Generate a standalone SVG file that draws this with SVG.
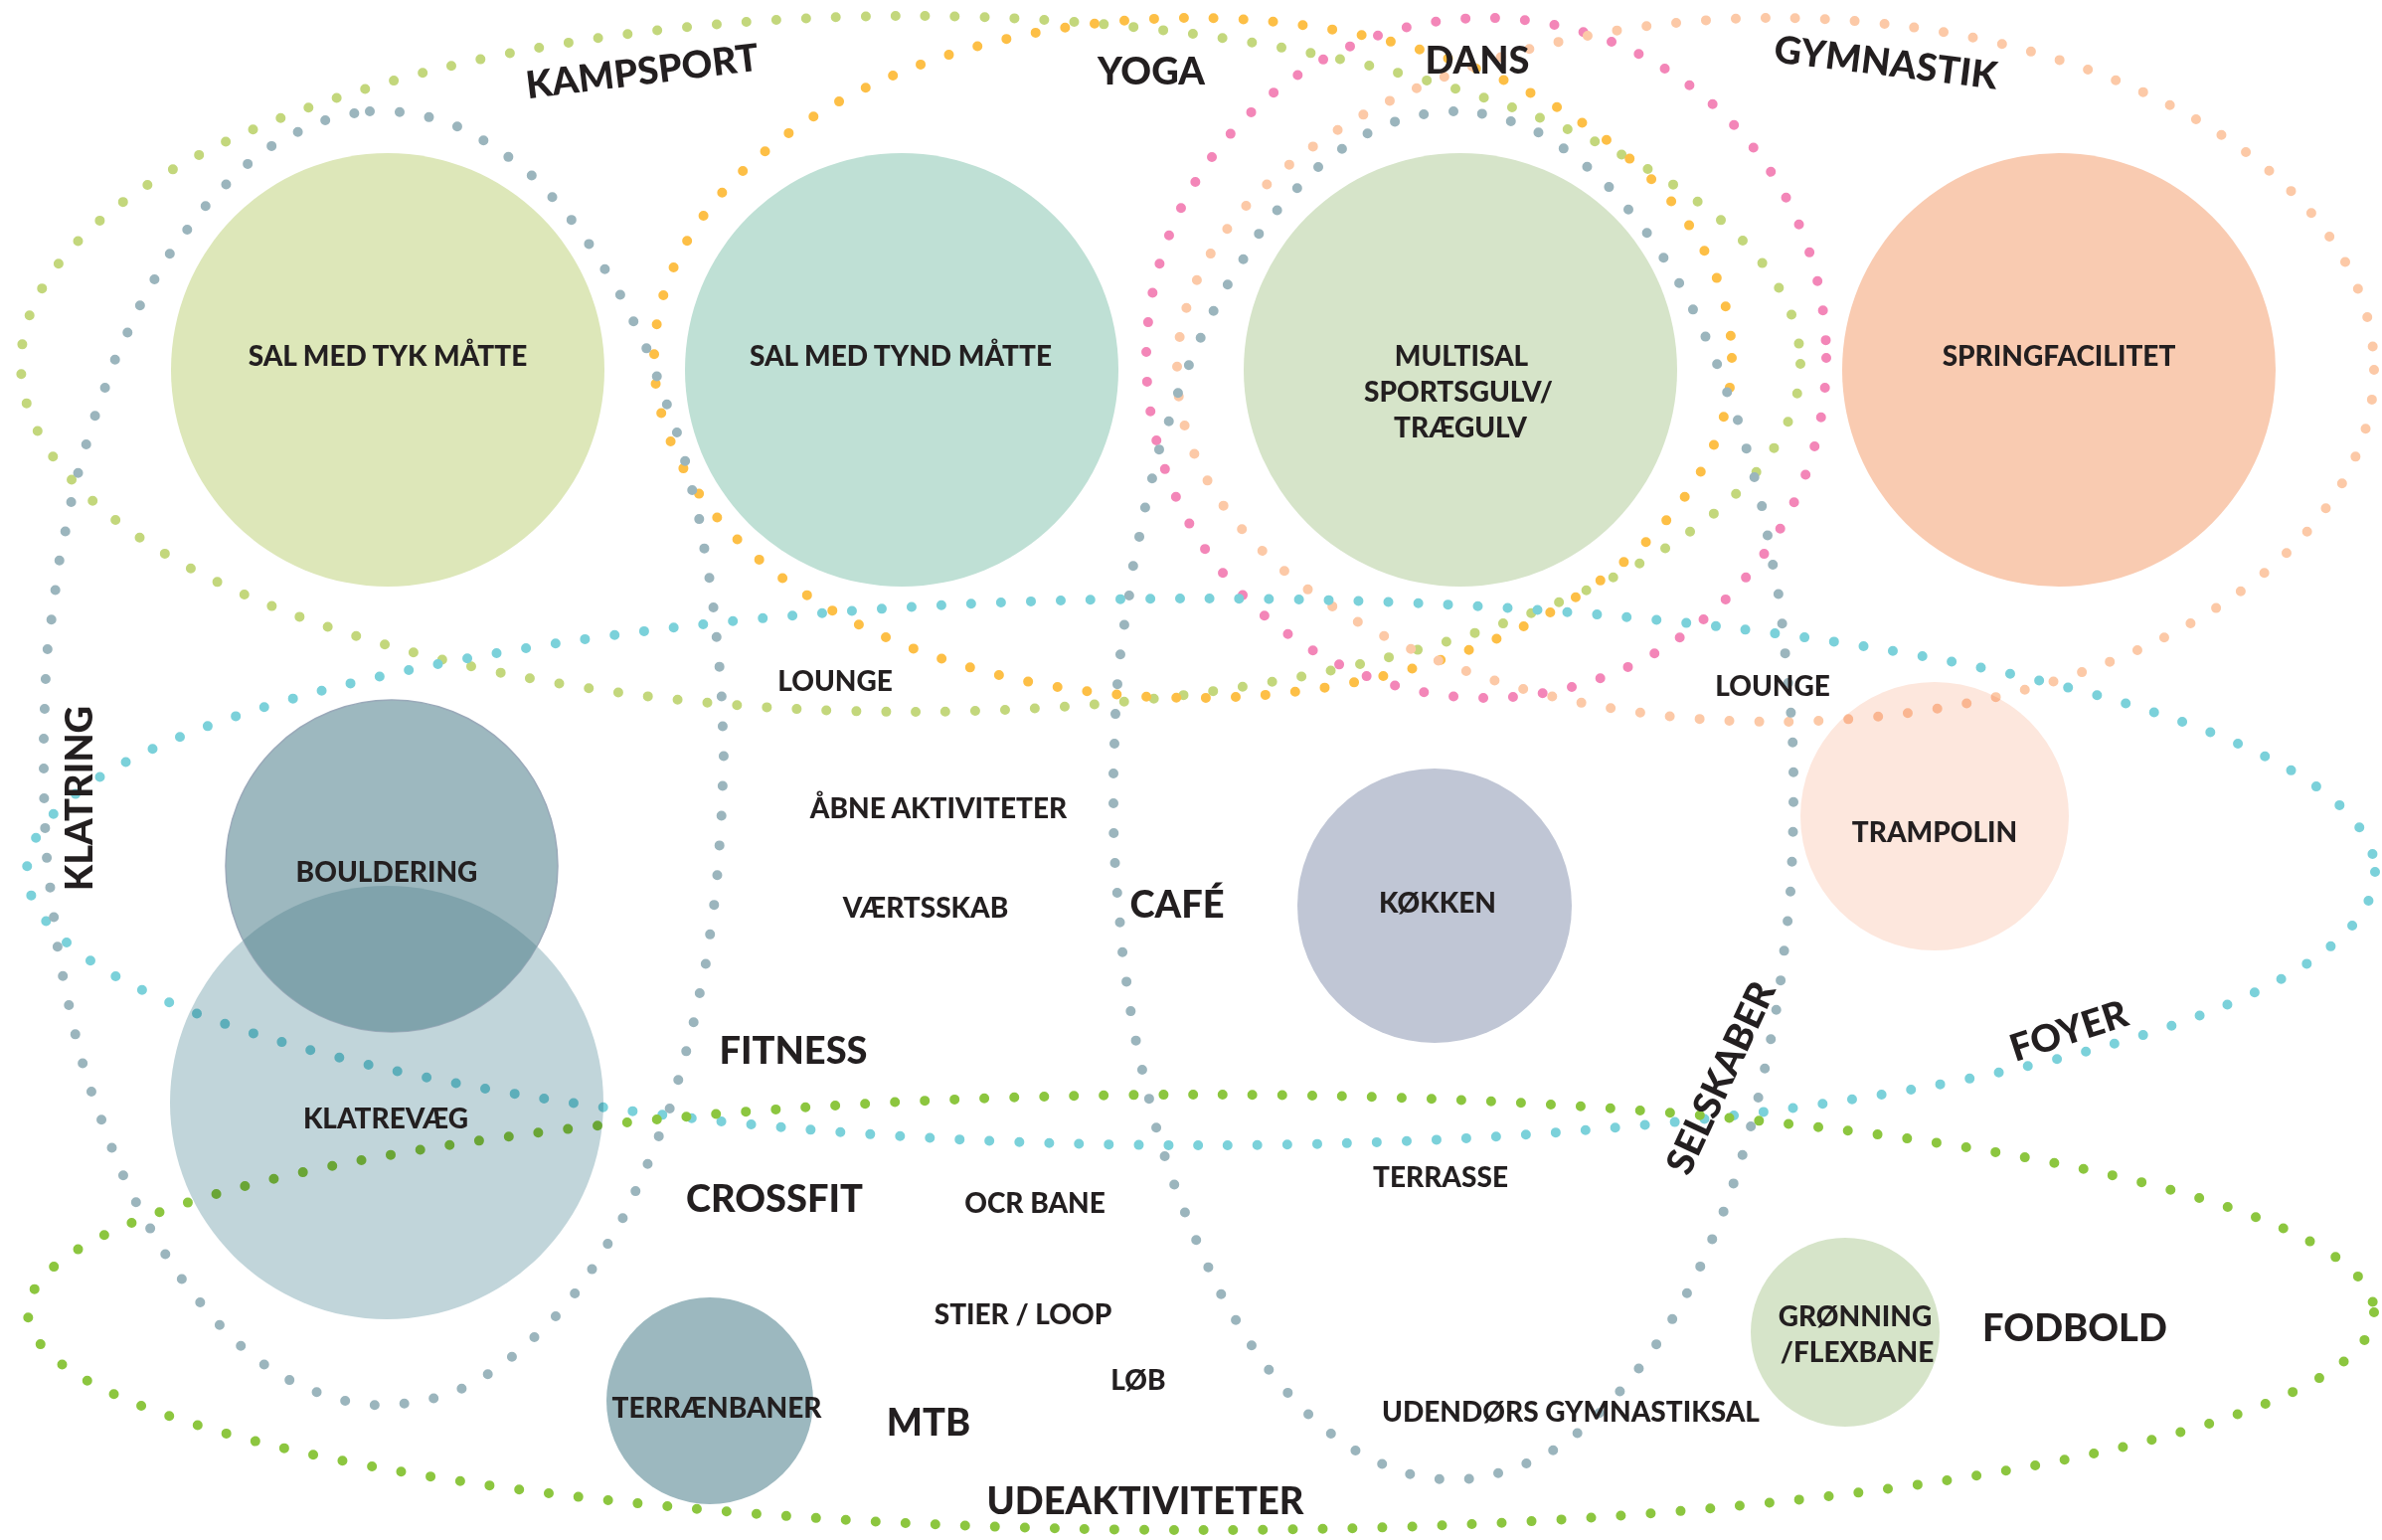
<svg xmlns="http://www.w3.org/2000/svg" width="2396" height="1549" viewBox="0 0 2396 1549">
<style>
.dot{fill:none;stroke-width:10;stroke-linecap:round;stroke-dasharray:0 30;}
.lbl{font-family:Lato,"Liberation Sans",sans-serif;font-weight:900;fill:#231f20;text-anchor:middle;}
.s{font-size:28px;}
.b{font-size:38px;}
</style>
<defs>
<clipPath id="clipKlatre"><circle cx="389" cy="1109" r="218"/></clipPath>
</defs>
<rect width="2396" height="1549" fill="#ffffff"/>

<g id="nodes">
<g id="sal-tyk"><circle cx="390" cy="372" r="218" fill="#dde7b9"/><text class="lbl s" x="390" y="368">SAL MED TYK MÅTTE</text></g>
<g id="sal-tynd"><circle cx="907" cy="372" r="218" fill="#bfe0d5"/><text class="lbl s" x="906" y="368">SAL MED TYND MÅTTE</text></g>
<g id="multisal"><circle cx="1469" cy="372" r="218" fill="#d6e4c9"/><text class="lbl s" x="1470" y="368">MULTISAL</text><text class="lbl s" x="1467" y="404">SPORTSGULV/</text><text class="lbl s" x="1469" y="440">TRÆGULV</text></g>
<g id="springfacilitet"><circle cx="2071" cy="372" r="218" fill="#f9cbb1"/><text class="lbl s" x="2071" y="368">SPRINGFACILITET</text></g>
<g id="klatrevaeg"><circle cx="389" cy="1109" r="218" fill="#c1d5da"/></g>
<g id="bouldering"><circle cx="394" cy="871" r="167" fill="#9db8bf" stroke="#9aa9b9" stroke-width="1.5"/><circle cx="394" cy="871" r="167" fill="#80a3ac" clip-path="url(#clipKlatre)"/><text class="lbl s" x="389" y="887">BOULDERING</text></g>
<text class="lbl s" x="388" y="1135">KLATREVÆG</text>
<g id="terraenbaner"><circle cx="714" cy="1409" r="104" fill="#9cb8bf"/><text class="lbl s" x="721" y="1426">TERRÆNBANER</text></g>
<g id="koekken"><circle cx="1443" cy="911" r="138" fill="#c0c6d5"/><text class="lbl s" x="1446" y="918">KØKKEN</text></g>
<g id="trampolin"><circle cx="1946" cy="821" r="135" fill="#fde7dd"/><text class="lbl s" x="1946" y="847">TRAMPOLIN</text></g>
<g id="groenning"><circle cx="1856" cy="1340" r="95" fill="#d6e4c9"/><text class="lbl s" x="1866" y="1334">GRØNNING</text><text class="lbl s" x="1868" y="1370">/FLEXBANE</text></g>
</g>

<g id="connectors" style="mix-blend-mode:multiply">
<ellipse id="kampsport-loop" class="dot" stroke="#c3d77c" cx="916" cy="366" rx="895" ry="350"/>
<ellipse id="yoga-loop" class="dot" stroke="#fdbf46" cx="1200" cy="360" rx="542" ry="342"/>
<circle id="dans-loop" class="dot" stroke="#f386b8" cx="1495" cy="360" r="342"/>
<ellipse id="gymnastik-loop" class="dot" stroke="#fcc9a7" cx="1786" cy="372" rx="602" ry="354"/>
<ellipse id="foyer-loop" class="dot" stroke="#7bd1da" cx="1208" cy="877" rx="1181" ry="275"/>
<ellipse id="ude-loop" class="dot" stroke="#8cc63f" cx="1208" cy="1320" rx="1180" ry="219"/>
<path id="klatring-loop" class="dot" stroke="#9bb5bd" d="M372,112 L408,113 437,119 465,129 491,144 516,161 539,180 559,202 578,225 595,249 611,275 626,300 639,327 652,354 662,382 672,410 682,438 690,467 697,496 704,525 709,555 714,584 718,614 721,643 724,674 726,703 727,733 728,763 727,786 726,816 724,846 722,875 719,905 715,934 711,964 705,993 699,1023 692,1051 684,1080 676,1109 665,1137 654,1165 642,1192 630,1219 615,1245 600,1270 583,1295 564,1319 543,1340 521,1360 498,1378 471,1394 444,1405 414,1411 386,1414 362,1412 333,1406 305,1395 279,1382 254,1364 232,1345 212,1323 193,1300 175,1276 160,1251 145,1225 131,1198 119,1171 108,1143 98,1115 88,1087 80,1058 73,1029 67,1000 61,971 56,941 53,911 49,882 46,852 45,822 44,792 44,763 44,739 45,710 46,680 48,650 52,621 56,591 60,562 66,533 72,503 79,474 87,446 96,417 106,389 116,361 129,333 141,307 156,280 171,255 189,230 207,207 228,185 249,165 273,147 299,133 327,121 356,114 Z"/>
<path id="cafe-loop" class="dot" stroke="#9bb5bd" d="M1462,112 L1432,115 1404,122 1376,134 1351,149 1326,168 1305,189 1285,211 1267,234 1251,260 1235,286 1221,312 1208,339 1196,367 1185,395 1176,423 1166,452 1159,481 1152,510 1146,540 1140,568 1136,598 1131,628 1127,658 1124,688 1122,718 1121,748 1120,777 1120,800 1120,830 1121,860 1123,890 1126,920 1128,950 1132,979 1136,1009 1141,1039 1147,1068 1154,1097 1161,1127 1169,1155 1178,1183 1189,1212 1200,1240 1212,1267 1224,1294 1239,1321 1254,1346 1271,1371 1290,1395 1310,1417 1332,1437 1356,1455 1382,1469 1410,1481 1439,1487 1463,1489 1492,1486 1520,1478 1548,1467 1574,1452 1597,1433 1619,1411 1639,1389 1657,1365 1674,1341 1689,1315 1704,1288 1716,1261 1728,1233 1739,1205 1748,1177 1757,1148 1765,1119 1772,1090 1778,1061 1784,1032 1789,1002 1793,972 1796,943 1800,912 1802,882 1803,852 1804,823 1804,800 1804,770 1803,740 1801,711 1798,680 1795,651 1792,621 1788,591 1782,562 1777,533 1771,503 1763,474 1755,445 1746,416 1735,389 1725,360 1713,333 1700,305 1686,279 1670,254 1653,229 1634,206 1614,183 1591,163 1567,145 1542,130 1514,120 1485,113 Z"/>
</g>

<g id="labels">
<text class="lbl b" transform="translate(646,72) rotate(-7)" y="13">KAMPSPORT</text>
<text class="lbl b" x="1158" y="85">YOGA</text>
<text class="lbl b" x="1486" y="74">DANS</text>
<text class="lbl b" transform="translate(1897,63) rotate(7)" y="13">GYMNASTIK</text>
<text class="lbl b" transform="translate(80,803) rotate(-90)" y="13">KLATRING</text>
<text class="lbl s" x="840" y="695">LOUNGE</text>
<text class="lbl s" x="1783" y="700">LOUNGE</text>
<text class="lbl s" x="944" y="823">ÅBNE AKTIVITETER</text>
<text class="lbl s" x="931" y="923">VÆRTSSKAB</text>
<text class="lbl b" x="1184" y="923">CAFÉ</text>
<text class="lbl b" x="798" y="1070">FITNESS</text>
<text class="lbl b" x="779" y="1219">CROSSFIT</text>
<text class="lbl s" x="1041" y="1220">OCR BANE</text>
<text class="lbl s" x="1449" y="1194">TERRASSE</text>
<text class="lbl b" transform="translate(1731,1084) rotate(-65)" y="13">SELSKABER</text>
<text class="lbl b" transform="translate(2081,1037) rotate(-18)" y="13">FOYER</text>
<text class="lbl s" x="1029" y="1332">STIER / LOOP</text>
<text class="lbl s" x="1145" y="1398">LØB</text>
<text class="lbl b" x="934" y="1444">MTB</text>
<text class="lbl s" x="1580" y="1430">UDENDØRS GYMNASTIKSAL</text>
<text class="lbl b" x="2087" y="1349">FODBOLD</text>
<text class="lbl b" x="1152" y="1523">UDEAKTIVITETER</text>
</g>
</svg>
